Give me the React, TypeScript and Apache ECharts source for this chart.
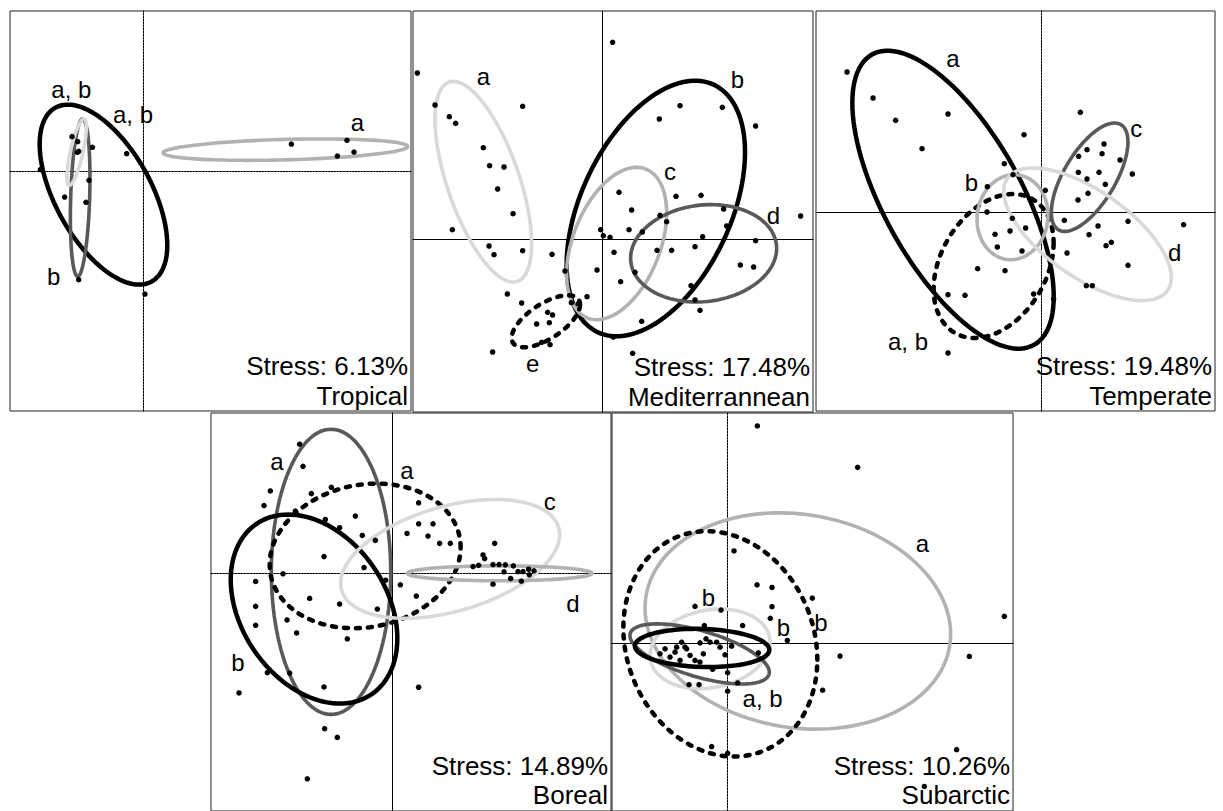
import React, { useEffect, useRef } from "react";
import * as echarts from "echarts";

// ---------- DATA (NMDS axis units) ----------
// ellipse rows: [centreX, centreY, halfWidthX, halfHeightY, correlation, group]
type Ell = [number, number, number, number, number, string];
type Lab = [number, number, string];

const tropicalPoints: [number, number][] = [
  [-0.717, 0.347], [-0.66, 0.297], [-0.513, 0.24], [-0.663, 0.19], [-0.65, 0.2], [-0.17, 0.177],
  [-1.033, 0.017], [-0.547, -0.09], [-0.79, -0.257], [-0.577, -0.31], [-0.65, -1.083], [0.013, -1.227],
  [1.477, 0.273], [2.033, 0.31], [2.103, 0.193], [1.937, 0.153],
];
const tropicalEllipses: Ell[] = [
  [-0.402, -0.233, 0.638, 0.9, -0.56, "black"],
  [-0.635, -0.263, 0.098, 0.787, 0.25, "dark"],
  [-0.67, 0.193, 0.097, 0.333, 0.75, "light"],
  [1.417, 0.217, 1.223, 0.107, 0.3, "mid"],
];
const tropicalLabels: Lab[] = [
  [-0.723, 0.817, "a, b"], [-0.107, 0.573, "a, b"], [-0.9, -1.05, "b"], [2.137, 0.49, "a"],
];

const medPoints: [number, number][] = [
  [-1.85, 1.66], [0.103, 1.967], [-1.673, 1.34], [-0.797, 1.327], [-1.53, 1.223], [-1.467, 1.157],
  [0.57, 1.2], [0.777, 1.333], [1.2, 1.317], [1.533, 1.13], [-1.19, 0.913], [-1.127, 0.733],
  [-0.983, 0.72], [-1.047, 0.5], [0.167, 0.467], [0.737, 0.427], [0.987, 0.437], [-0.893, 0.253],
  [0.293, 0.29], [0.577, 0.237], [0.643, 0.173], [1.213, 0.3], [1.983, 0.23], [-1.5, 0.093],
  [-0.017, 0.093], [0.267, 0.093], [1.243, 0.13], [0.01, 0.033], [0.077, 0.017], [0.4, 0.07],
  [1.003, 0.023], [1.533, -0.017], [-1.133, -0.07], [-1.083, -0.157], [-0.797, -0.117], [-0.503, -0.153],
  [0.117, -0.133], [0.547, -0.113], [0.693, -0.113], [0.927, -0.077], [-0.373, -0.32], [-0.053, -0.31],
  [0.327, -0.333], [1.38, -0.26], [1.513, -0.28], [0.183, -0.427], [0.887, -0.467], [-0.95, -0.55],
  [-0.807, -0.64], [-0.153, -0.577], [0.927, -0.61], [0.977, -0.713], [-0.31, -0.637], [-0.24, -0.647],
  [-0.547, -0.733], [-0.497, -0.76], [-0.657, -0.85], [-0.53, -0.837], [0.393, -0.823], [0.11, -0.98],
  [-1.097, -1.13], [-0.523, -1.057], [-0.607, -1.033], [0.303, -1.143],
];
const medEllipses: Ell[] = [
  [-1.19, 0.573, 0.483, 1.003, -0.62, "light"],
  [0.535, 0.305, 0.892, 1.278, 0.44, "black"],
  [0.143, -0.045, 0.5, 0.762, 0.4, "mid"],
  [1.013, -0.143, 0.73, 0.487, 0.1, "dark"],
  [-0.565, -0.823, 0.342, 0.26, 0.64, "dash"],
];
const medLabels: Lab[] = [
  [-1.19, 1.627, "a"], [1.35, 1.593, "b"], [0.677, 0.677, "c"], [1.71, 0.237, "d"], [-0.697, -1.24, "e"],
];

const tempPoints: [number, number][] = [
  [-1.943, 1.4], [-1.683, 1.14], [-1.457, 0.917], [-0.933, 0.98], [-1.193, 0.633], [-0.173, 0.773],
  [0.39, 0.997], [0.373, 0.557], [0.457, 0.623], [0.627, 0.68], [0.607, 0.583], [0.787, 0.52],
  [0.91, 0.38], [0.37, 0.397], [0.457, 0.33], [0.577, 0.397], [0.64, 0.277], [0.467, 0.187],
  [0.367, 0.12], [-0.37, 0.483], [-0.283, 0.373], [-0.54, 0.253], [0.04, 0.217], [-0.543, 0],
  [-0.29, -0.063], [-0.157, -0.16], [-0.313, -0.19], [-0.463, -0.223], [-0.44, -0.35], [-0.193, -0.39],
  [0.23, -0.083], [0.567, -0.14], [0.867, -0.093], [1.423, -0.127], [0.477, -0.227], [0.7, -0.303],
  [0.647, -0.337], [0.257, -0.41], [0.867, -0.533], [0.45, -0.737], [0.51, -0.737], [-0.637, -0.567],
  [-0.363, -0.587], [-0.933, -0.827], [-0.763, -0.833], [-0.077, -0.82], [0.123, -0.87], [-0.933, -1.41],
];
const tempEllipses: Ell[] = [
  [-0.883, 0.123, 1.007, 1.49, -0.65, "black"],
  [-0.477, -0.54, 0.6, 0.72, 0.32, "dash"],
  [-0.288, -0.052, 0.355, 0.425, 0.05, "mid"],
  [0.483, 0.348, 0.383, 0.542, 0.65, "dark"],
  [0.462, -0.223, 0.838, 0.663, -0.65, "light"],
];
const tempLabels: Lab[] = [
  [-0.883, 1.533, "a"], [0.95, 0.833, "c"], [-0.7, 0.3, "b"], [1.333, -0.403, "d"], [-1.333, -1.293, "a, b"],
];

const borealPoints: [number, number][] = [
  [-0.927, 1.3], [-0.893, 1.077], [-1.22, 0.83], [-1.283, 0.683], [-0.81, 0.803], [-0.61, 0.867],
  [-0.97, 0.627], [-0.67, 0.543], [-0.37, 0.577], [-0.527, 0.46], [0.263, 0.71], [0.263, 0.5],
  [0.407, 0.5], [0.147, 0.403], [0.357, 0.377], [-0.3, 0.383], [-0.17, 0.333], [0.473, 0.303],
  [0.58, 0.303], [1.023, 0.303], [-0.683, 0.17], [0.907, 0.187], [0.923, 0.15], [-0.283, 0.06],
  [0.807, 0.07], [0.863, 0.083], [1.007, 0.09], [1.067, 0.09], [1.13, 0.087], [1.21, 0.077],
  [1.117, 0.017], [1.257, 0.02], [1.307, 0.02], [1.363, 0.043], [1.417, 0.027], [-1.093, -0.003],
  [-1.367, -0.08], [-0.067, -0.067], [0.08, -0.113], [1.007, -0.107], [1.183, -0.05], [1.29, -0.077],
  [1.37, -0.013], [-0.827, -0.25], [-0.527, -0.307], [0.24, -0.227], [-1.367, -0.33], [-0.15, -0.357],
  [-1.053, -0.467], [-1.367, -0.52], [-0.957, -0.597], [-0.45, -0.657], [-1.25, -0.997], [-1.027, -1.0],
  [-0.683, -1.14], [0.263, -1.143], [-1.533, -1.2], [-0.677, -1.56], [-0.55, -1.647], [-0.85, -2.063],
];
const borealEllipses: Ell[] = [
  [-0.613, 0.017, 0.597, 1.433, 0, "dark"],
  [-0.272, 0.177, 0.955, 0.727, 0.12, "dash"],
  [-0.783, -0.357, 0.833, 0.95, -0.31, "black"],
  [0.578, 0.147, 1.095, 0.597, 0.41, "light"],
  [1.073, 0.002, 0.923, 0.075, 0, "mid"],
];
const borealLabels: Lab[] = [
  [-1.153, 1.127, "a"], [0.147, 1.033, "a"], [1.573, 0.727, "c"], [1.807, -0.3, "d"], [-1.543, -0.897, "b"],
];

const subarcticPoints: [number, number][] = [
  [0.3, 2.183], [1.303, 1.767], [0.067, 0.927], [0.297, 0.587], [0.447, 0.56], [0.85, 0.453],
  [-0.323, 0.37], [-0.063, 0.333], [0.447, 0.367], [0.43, 0.25], [0.153, 0.177], [0.6, 0.027],
  [-0.23, 0.177], [1.127, -0.13], [2.42, -0.133], [2.77, 0.27], [0.953, -0.473], [0.003, -0.483],
  [-0.383, -0.417], [-0.283, -0.417], [0.103, -0.4], [0.003, -0.297], [-0.147, -0.263], [2.293, -1.07],
  [1.97, -1.44], [-0.157, -1.04], [0.003, -1.107], [0.31, -0.097],
  [-0.673, -0.107], [-0.623, -0.057], [-0.573, -0.14], [-0.507, -0.04], [-0.457, 0.01], [-0.407, -0.057],
  [-0.373, -0.123], [-0.473, -0.173], [-0.323, -0.173], [-0.273, -0.19], [-0.24, -0.107], [-0.213, 0.043],
  [-0.173, 0.01], [-0.107, 0.01], [-0.073, -0.04], [-0.023, -0.117], [0.043, -0.03], [-0.273, 0.003],
  [-0.523, -0.09], [-0.423, -0.04],
];
const subarcticEllipses: Ell[] = [
  [0.705, 0.223, 1.528, 1.087, -0.12, "mid"],
  [-0.07, -0.007, 0.97, 1.133, -0.14, "dash"],
  [-0.173, -0.057, 0.6, 0.4, 0.17, "light"],
  [-0.277, -0.108, 0.697, 0.302, -0.61, "dark"],
  [-0.252, -0.048, 0.672, 0.192, -0.1, "black"],
];
const subarcticLabels: Lab[] = [
  [1.95, 1.003, "a"], [-0.19, 0.46, "b"], [0.56, 0.16, "b"], [0.937, 0.21, "b"], [0.353, -0.557, "a, b"],
];

const regionNames = ["Tropical", "Mediterrannean", "Temperate", "Boreal", "Subarctic"];
const stressValues = ["6.13%", "17.48%", "19.48%", "14.89%", "10.26%"];

// ---------- LAYOUT / STYLE ----------
const FONT = '"Liberation Sans", Arial, Helvetica, sans-serif';
const STYLES: Record<string, any> = {
  black: { stroke: "#000000", lineWidth: 4.5 },
  dash: { stroke: "#000000", lineWidth: 4.5, lineDash: [4, 8], lineCap: "round" },
  dark: { stroke: "#595959", lineWidth: 3.6 },
  mid: { stroke: "#b2b2b2", lineWidth: 3.6 },
  light: { stroke: "#d9d9d9", lineWidth: 3.6 },
};
const DOTTED = [2, 1];
const PAGE_H = 811;

const panels = [
  { points: tropicalPoints, ellipses: tropicalEllipses, labels: tropicalLabels, box: [10, 11, 401, 400], origin: [143.67, 171.33], vDot: true, hDot: true },
  { points: medPoints, ellipses: medEllipses, labels: medLabels, box: [413, 11, 400, 401], origin: [602.33, 239], vDot: false, hDot: false },
  { points: tempPoints, ellipses: tempEllipses, labels: tempLabels, box: [816, 11, 399, 400], origin: [1041.33, 212], vDot: true, hDot: false },
  { points: borealPoints, ellipses: borealEllipses, labels: borealLabels, box: [211, 413, 400, 400], origin: [392.33, 574.33], vDot: false, hDot: true },
  { points: subarcticPoints, ellipses: subarcticEllipses, labels: subarcticLabels, box: [612, 413, 401, 400], origin: [727.33, 644.33], vDot: true, hDot: false },
];
const PX_PER_UNIT = 100;

function buildOption() {
  const grid: any[] = [];
  const xAxis: any[] = [];
  const yAxis: any[] = [];
  const series: any[] = [];
  const graphic: any[] = [];

  panels.forEach((p, i) => {
    const [left, top, width, height] = p.box;
    const [ox, oy] = p.origin;
    grid.push({ left, top, width, height, show: true, borderColor: "#222", borderWidth: 1, containLabel: false });
    xAxis.push({
      gridIndex: i, type: "value",
      min: (left - ox) / PX_PER_UNIT, max: (left + width - ox) / PX_PER_UNIT,
      axisLine: { show: true, onZero: true, lineStyle: { color: "#000", width: 1, type: p.hDot ? DOTTED : "solid" } },
      axisTick: { show: false }, axisLabel: { show: false }, splitLine: { show: false },
    });
    yAxis.push({
      gridIndex: i, type: "value",
      min: (oy - top - height) / PX_PER_UNIT, max: (oy - top) / PX_PER_UNIT,
      axisLine: { show: true, onZero: true, lineStyle: { color: "#000", width: 1, type: p.vDot ? DOTTED : "solid" } },
      axisTick: { show: false }, axisLabel: { show: false }, splitLine: { show: false },
    });

    const ells = p.ellipses;
    series.push({
      type: "custom", xAxisIndex: i, yAxisIndex: i, silent: true,
      dimensions: ["cx", "cy", "sx", "sy", "r"],
      encode: { x: 0, y: 1 },
      data: ells.map((e) => [e[0], e[1], e[2], e[3], e[4]]),
      renderItem: (params: any, api: any) => {
        const cx = api.value(0), cy = api.value(1), sx = api.value(2), sy = api.value(3), r = api.value(4);
        const k = Math.sqrt(Math.max(0, 1 - r * r));
        const pts: number[][] = [];
        const N = 120;
        for (let j = 0; j < N; j++) {
          const t = (j / N) * Math.PI * 2;
          pts.push(api.coord([cx + sx * Math.cos(t), cy + sy * (r * Math.cos(t) + k * Math.sin(t))]));
        }
        const st = STYLES[ells[params.dataIndex][5]];
        return { type: "polygon", shape: { points: pts }, style: { fill: "none", ...st } };
      },
      z: 2,
    });

    series.push({
      type: "scatter", xAxisIndex: i, yAxisIndex: i, silent: true,
      data: p.points, symbolSize: 5.5, itemStyle: { color: "#000", opacity: 1 }, z: 3,
    });

    const labs = p.labels;
    series.push({
      type: "custom", xAxisIndex: i, yAxisIndex: i, silent: true,
      encode: { x: 0, y: 1 },
      data: labs.map((l) => [l[0], l[1]]),
      renderItem: (params: any, api: any) => {
        const c = api.coord([api.value(0), api.value(1)]);
        return {
          type: "text", x: c[0], y: c[1],
          style: { text: labs[params.dataIndex][2], fontSize: 24, fontFamily: FONT, fill: "#000", align: "center", verticalAlign: "middle" },
        };
      },
      z: 4,
    });

    const nameY = Math.min(top + height - 15, PAGE_H - 16);
    const stressY = Math.min(top + height - 45, nameY - 29);
    graphic.push({
      type: "text", x: left + width - 3, y: stressY, z: 10,
      style: { text: "Stress: " + stressValues[i], fontSize: 26, fontFamily: FONT, fill: "#000", align: "right", verticalAlign: "middle" },
    });
    graphic.push({
      type: "text", x: left + width - 3, y: nameY, z: 10,
      style: { text: regionNames[i], fontSize: 26, fontFamily: FONT, fill: "#000", align: "right", verticalAlign: "middle" },
    });
  });

  return { animation: false, backgroundColor: "#ffffff", grid, xAxis, yAxis, series, graphic };
}

export default function App() {
  const ref = useRef<HTMLDivElement>(null);
  useEffect(() => {
    if (!ref.current) return;
    const chart = echarts.init(ref.current, undefined, { renderer: "svg" });
    chart.setOption(buildOption() as any);
    return () => chart.dispose();
  }, []);
  return (
    <div
      ref={ref}
      style={{ position: "absolute", left: 0, top: 0, width: 1223, height: 811, background: "#fff" }}
    />
  );
}
